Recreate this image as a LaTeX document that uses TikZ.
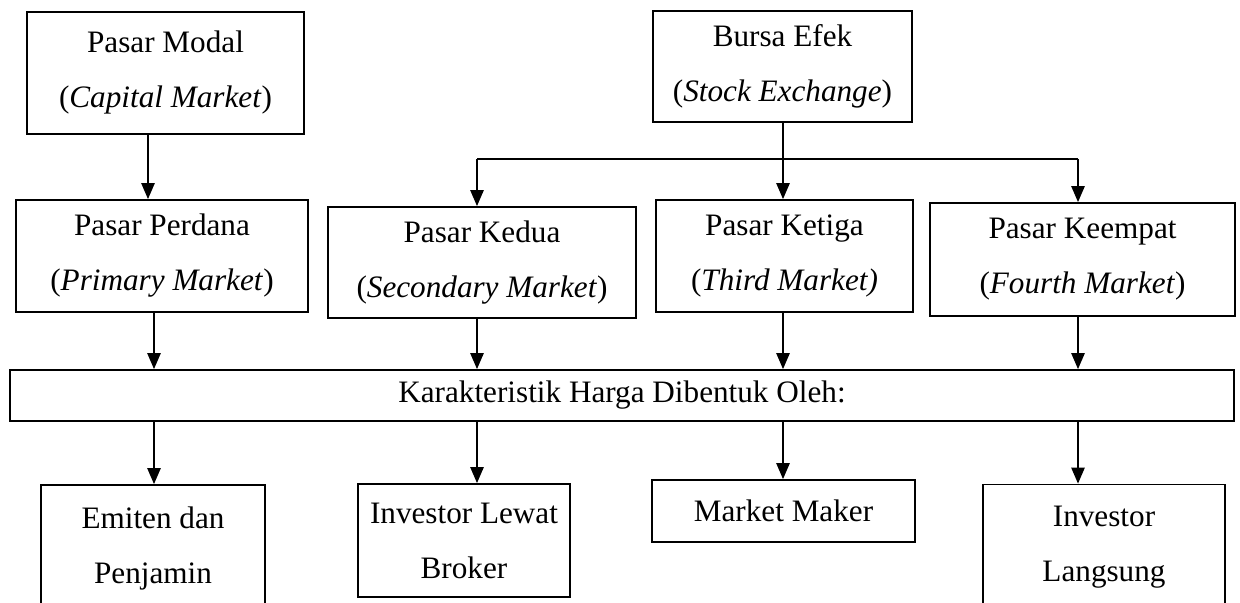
\documentclass[tikz,border=0pt]{standalone}
\usepackage{fontspec}
\setmainfont{Liberation Serif}
\usetikzlibrary{arrows.meta}

\begin{document}
\begin{tikzpicture}
    [
        x=0.5pt, y=-0.5pt,
        market_box/.style={rectangle, draw=black, line width=0.8pt, align=center, inner sep=0pt, font=\fontsize{15.6}{27.5}\selectfont},
        flow_arrow/.style={-{Triangle[width=6.5pt,length=8pt]}, line width=1.2pt, color=black},
        flow_line/.style={line width=1.2pt, color=black},
    ]
        \useasboundingbox (0,0) rectangle (1240,603);
        \node[market_box, minimum width=138.5pt, minimum height=61pt] (modal) at (165.5,73) {Pasar Modal\\(\textit{Capital Market})} ;
        \node[market_box, minimum width=129.5pt, minimum height=55.5pt] (bursa) at (782.5,66.5) {Bursa Efek\\(\textit{Stock Exchange})} ;
        \node[market_box, minimum width=146pt, minimum height=56pt] (perdana) at (162,256) {Pasar Perdana\\(\textit{Primary Market})} ;
        \node[market_box, minimum width=154pt, minimum height=55.5pt] (kedua) at (482,262.5) {Pasar Kedua\\(\textit{Secondary Market})} ;
        \node[market_box, minimum width=128.5pt, minimum height=56pt] (ketiga) at (784.5,256) {Pasar Ketiga\\(\textit{Third Market)}} ;
        \node[market_box, minimum width=152.5pt, minimum height=56.5pt] (keempat) at (1082.5,259.5) {Pasar Keempat\\(\textit{Fourth Market})} ;
        \node[market_box, minimum width=612pt, minimum height=25.5pt] (harga) at (622,395.5) {Karakteristik Harga Dibentuk Oleh:} ;
        \node[market_box, minimum width=112pt, minimum height=63pt] (emiten) at (153,548) {Emiten dan\\Penjamin} ;
        \node[market_box, minimum width=106pt, minimum height=56.5pt] (broker) at (464,540.5) {Investor Lewat\\Broker} ;
        \node[market_box, minimum width=131.5pt, minimum height=31pt] (maker) at (783.5,511) {Market Maker} ;
        \node[market_box, minimum width=121pt, minimum height=63pt] (langsung) at (1104,547.5) {Investor\\Langsung} ;
        % arrow columns
        \coordinate (c0) at (148,0) ;
        \coordinate (c1) at (154,0) ;
        \coordinate (c2) at (477,0) ;
        \coordinate (c3) at (783,0) ;
        \coordinate (c4) at (1078,0) ;
        \coordinate (split) at (783,159) ;
        \draw[flow_arrow] (modal.south -| c0) -- (perdana.north -| c0) ;
        \draw[flow_line] (bursa.south -| c3) -- (split) ;
        \draw[flow_line] (split -| c2) -- (split -| c4) ;
        \draw[flow_arrow] (split -| c2) -- (kedua.north -| c2) ;
        \draw[flow_arrow] (split) -- (ketiga.north -| c3) ;
        \draw[flow_arrow] (split -| c4) -- (keempat.north -| c4) ;
        \draw[flow_arrow] (perdana.south -| c1) -- (harga.north -| c1) ;
        \draw[flow_arrow] (kedua.south -| c2) -- (harga.north -| c2) ;
        \draw[flow_arrow] (ketiga.south -| c3) -- (harga.north -| c3) ;
        \draw[flow_arrow] (keempat.south -| c4) -- (harga.north -| c4) ;
        \draw[flow_arrow] (harga.south -| c1) -- (emiten.north -| c1) ;
        \draw[flow_arrow] (harga.south -| c2) -- (broker.north -| c2) ;
        \draw[flow_arrow] (harga.south -| c3) -- (maker.north -| c3) ;
        \draw[flow_arrow] (harga.south -| c4) -- (langsung.north -| c4) ;
    \end{tikzpicture}
\end{document}
